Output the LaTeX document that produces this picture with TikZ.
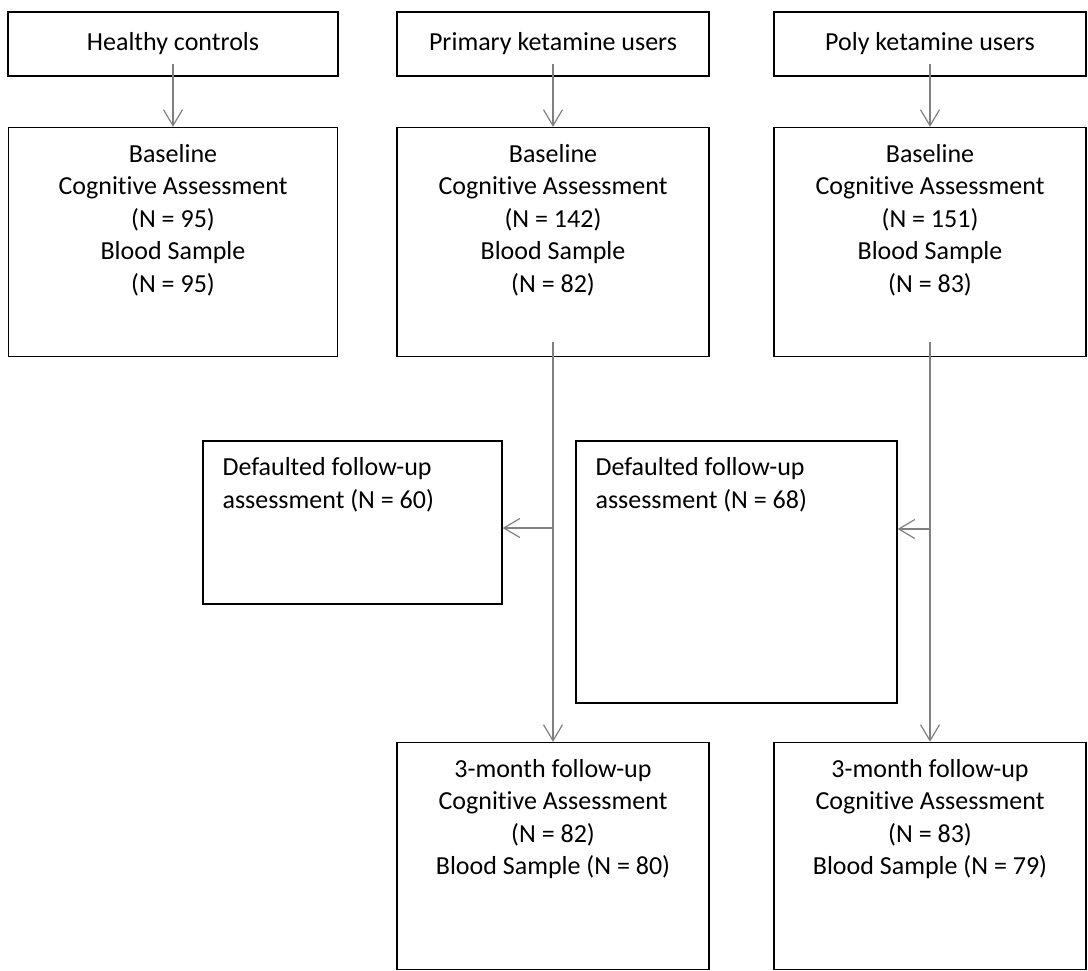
\documentclass[tikz,border=0pt]{standalone}
\usepackage{fontspec}
\setmainfont{Carlito}[Ligatures=NoCommon, RawFeature={-liga;-clig;-calt}]
\usetikzlibrary{arrows.meta,positioning}

\begin{document}
\begin{tikzpicture}[x=1bp, y=-1bp, node distance=380bp, >={Straight Barb[length=16bp,width=19bp]},
	font=\fontsize{26bp}{32.5bp}\selectfont]
			
			% Styles
			\tikzstyle{groupbox} = [rectangle, draw, line width=1.3bp, minimum height=64bp, minimum width=312bp, inner sep=0pt, align=center]
			\tikzstyle{stagebox} = [rectangle, draw, line width=1.3bp, minimum width=312bp, minimum height=229bp, inner sep=0pt]
			\tikzstyle{stagetext} = [anchor=north, align=center, inner sep=17bp]
			\tikzstyle{droptext} = [anchor=north west, align=left, inner xsep=20bp, inner ysep=17bp]
			\tikzstyle{link} = [->, line width=1.2bp, black!50]
			
			\useasboundingbox (0,0) rectangle (1088,971);
			
			% Nodes
			\node[groupbox, minimum width=330bp] (healthy) at (173,44) {Healthy controls};
			\node[groupbox, right of=healthy] (primary) {Primary ketamine users};
			\node[groupbox, right of=primary, node distance=377bp] (poly) {Poly ketamine users};
			\node[stagebox, minimum width=329bp, below of=healthy, node distance=198bp,
				label={[stagetext]north:{Baseline\\Cognitive Assessment\\(N = 95)\\Blood Sample\\(N = 95)}}] (healthybase) {};
			\node[stagebox, below of=primary, node distance=198bp,
				label={[stagetext]north:{Baseline\\Cognitive Assessment\\(N = 142)\\Blood Sample\\(N = 82)}}] (primarybase) {};
			\node[stagebox, below of=poly, node distance=198bp,
				label={[stagetext]north:{Baseline\\Cognitive Assessment\\(N = 151)\\Blood Sample\\(N = 83)}}] (polybase) {};
			\node[stagebox, minimum width=299bp, minimum height=163bp, at={(352.5,522.5)},
				label={[droptext]north west:{Defaulted follow-up\\assessment (N = 60)}}] (primarydefault) {};
			\node[stagebox, minimum width=321bp, minimum height=262bp, at={(736.5,572)},
				label={[droptext]north west:{Defaulted follow-up\\assessment (N = 68)}}] (polydefault) {};
			\node[stagebox, minimum height=227bp, below of=primarybase, node distance=614bp,
				label={[stagetext]north:{3-month follow-up\\Cognitive Assessment\\(N = 82)\\Blood Sample (N = 80)}}] (primaryfollow) {};
			\node[stagebox, minimum height=227bp, right of=primaryfollow, node distance=377bp,
				label={[stagetext]north:{3-month follow-up\\Cognitive Assessment\\(N = 83)\\Blood Sample (N = 79)}}] (polyfollow) {};
			\coordinate (primarysplit) at (primarybase.south |- 0,528);
			\coordinate (polysplit) at (polybase.south |- 0,529);
			
			% Arrows
			\draw[link] ([yshift=13bp]healthy.south) -- (healthybase);
			\draw[link] ([yshift=13bp]primary.south) -- (primarybase);
			\draw[link] ([yshift=13bp]poly.south) -- (polybase);
			\draw[link] ([yshift=15bp]primarybase.south) -- (primaryfollow);
			\draw[link] ([yshift=15bp]polybase.south) -- (polyfollow);
			\draw[link] (primarysplit) -- (primarysplit -| primarydefault.east);
			\draw[link] (polysplit) -- (polysplit -| polydefault.east);
			
		\end{tikzpicture}
\end{document}
